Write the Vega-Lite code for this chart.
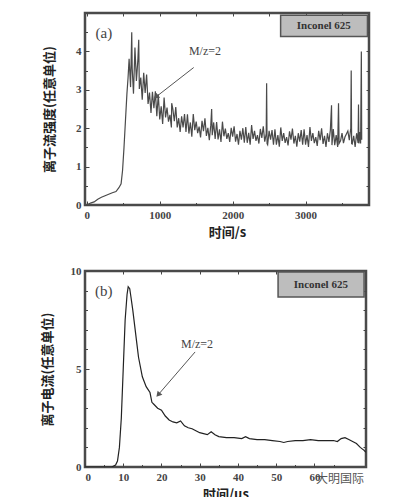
{
  "$schema": "https://vega.github.io/schema/vega-lite/v6.json",
  "background": "white",
  "padding": {"left": 39, "top": 11, "right": 5, "bottom": 0},
  "spacing": 22,
  "config": {
    "view": {"stroke": "#4a4a4a", "strokeWidth": 2.5},
    "axis": {
      "domain": false, "grid": false, "ticks": true, "tickColor": "#444", "tickSize": -4, "tickWidth": 1,
      "labelPadding": 8, "labelFont": "Liberation Serif", "labelFontSize": 11, "labelFontWeight": "bold", "labelColor": "#444", "format": "d",
      "titleFont": "Noto Sans CJK SC", "titleFontSize": 13, "titleFontWeight": "bold", "titleColor": "#222"
    }
  },
  "datasets": {
    "a": [
      {"t":0,"v":0.0},{"t":50,"v":0.05},{"t":100,"v":0.08},{"t":150,"v":0.15},{"t":200,"v":0.2},{"t":250,"v":0.24},{"t":300,"v":0.28},{"t":350,"v":0.32},{"t":400,"v":0.35},{"t":440,"v":0.45},{"t":470,"v":0.55},{"t":490,"v":0.9},{"t":510,"v":1.5},{"t":530,"v":2.2},{"t":550,"v":2.9},{"t":565,"v":3.3},
      {"t":580,"v":3.81},{"t":600,"v":3.07},{"t":616,"v":4.5},{"t":622,"v":3.57},{"t":640,"v":2.9},{"t":660,"v":4.1},{"t":680,"v":3.23},{"t":700,"v":3.78},{"t":712,"v":4.3},{"t":720,"v":3.02},{"t":740,"v":3.32},{"t":760,"v":2.74},{"t":780,"v":3.44},{"t":800,"v":2.92},{"t":820,"v":3.4},{"t":840,"v":2.63},{"t":860,"v":2.93},{"t":880,"v":2.4},{"t":900,"v":2.95},{"t":920,"v":2.52},{"t":940,"v":2.96},{"t":960,"v":2.31},{"t":980,"v":2.88},{"t":1000,"v":2.23},
      {"t":1020,"v":2.57},{"t":1040,"v":2.11},{"t":1060,"v":2.8},{"t":1080,"v":2.28},{"t":1100,"v":2.54},{"t":1120,"v":2.17},{"t":1140,"v":2.35},{"t":1160,"v":2.02},{"t":1164,"v":2.65},{"t":1180,"v":2.5},{"t":1200,"v":2.18},{"t":1220,"v":2.55},{"t":1240,"v":2.02},{"t":1260,"v":2.26},{"t":1280,"v":1.9},{"t":1300,"v":2.31},{"t":1320,"v":2.02},{"t":1340,"v":2.37},{"t":1360,"v":1.9},{"t":1380,"v":2.36},{"t":1400,"v":1.86},
      {"t":1420,"v":2.15},{"t":1440,"v":1.78},{"t":1460,"v":2.37},{"t":1480,"v":1.95},{"t":1500,"v":2.17},{"t":1520,"v":1.87},{"t":1540,"v":2.04},{"t":1560,"v":1.76},{"t":1580,"v":2.19},{"t":1600,"v":1.92},{"t":1620,"v":2.26},{"t":1640,"v":1.8},{"t":1660,"v":2.01},{"t":1680,"v":1.69},{"t":1700,"v":2.08},{"t":1712,"v":2.5},{"t":1720,"v":1.82},{"t":1740,"v":2.15},{"t":1760,"v":1.72},{"t":1780,"v":2.16},{"t":1800,"v":1.71},
      {"t":1820,"v":1.97},{"t":1840,"v":1.64},{"t":1860,"v":2.17},{"t":1880,"v":1.79},{"t":1900,"v":1.99},{"t":1920,"v":1.72},{"t":1940,"v":1.87},{"t":1960,"v":1.64},{"t":1980,"v":2.01},{"t":2000,"v":1.78},
      {"t":2020,"v":2.05},{"t":2040,"v":1.65},{"t":2060,"v":1.85},{"t":2080,"v":1.57},{"t":2100,"v":1.93},{"t":2120,"v":1.7},{"t":2140,"v":2.0},{"t":2160,"v":1.62},{"t":2180,"v":2.03},{"t":2200,"v":1.62},{"t":2220,"v":1.88},{"t":2240,"v":1.57},{"t":2260,"v":2.08},{"t":2280,"v":1.72},{"t":2300,"v":1.93},{"t":2320,"v":1.67},{"t":2340,"v":1.82},{"t":2360,"v":1.6},{"t":2380,"v":1.98},{"t":2400,"v":1.75},{"t":2420,"v":2.05},{"t":2440,"v":1.65},{"t":2460,"v":1.85},{"t":2466,"v":3.17},{"t":2472,"v":1.6},{"t":2480,"v":1.57},{"t":2500,"v":1.93},
      {"t":2520,"v":1.7},{"t":2540,"v":1.95},{"t":2560,"v":1.57},{"t":2580,"v":1.97},{"t":2600,"v":1.57},{"t":2620,"v":1.82},{"t":2640,"v":1.52},{"t":2660,"v":2.02},{"t":2680,"v":1.67},{"t":2700,"v":1.87},{"t":2720,"v":1.62},{"t":2740,"v":1.77},{"t":2760,"v":1.55},{"t":2780,"v":1.92},{"t":2800,"v":1.7},{"t":2820,"v":1.99},{"t":2840,"v":1.6},{"t":2860,"v":1.8},{"t":2880,"v":1.52},{"t":2900,"v":1.87},{"t":2920,"v":1.65},{"t":2940,"v":1.95},{"t":2960,"v":1.57},{"t":2980,"v":1.97},{"t":3000,"v":1.57},
      {"t":3020,"v":1.82},{"t":3040,"v":1.51},{"t":3060,"v":2.03},{"t":3080,"v":1.67},{"t":3100,"v":1.87},{"t":3120,"v":1.61},{"t":3140,"v":1.77},{"t":3160,"v":1.54},{"t":3180,"v":1.93},{"t":3200,"v":1.69},{"t":3220,"v":2.0},{"t":3240,"v":1.59},{"t":3260,"v":1.8},{"t":3280,"v":1.51},{"t":3300,"v":1.87},{"t":3320,"v":1.64},{"t":3340,"v":1.95},{"t":3356,"v":2.6},{"t":3362,"v":1.56},{"t":3380,"v":1.98},{"t":3400,"v":1.56},
      {"t":3420,"v":1.82},{"t":3440,"v":1.51},{"t":3452,"v":2.65},{"t":3460,"v":1.6},{"t":3480,"v":1.67},{"t":3500,"v":1.87},{"t":3520,"v":1.61},{"t":3540,"v":1.77},{"t":3560,"v":1.85},{"t":3580,"v":1.93},{"t":3600,"v":1.69},{"t":3620,"v":2.0},{"t":3626,"v":3.5},{"t":3632,"v":1.6},{"t":3640,"v":1.59},{"t":3660,"v":1.8},{"t":3680,"v":1.51},{"t":3700,"v":1.87},{"t":3720,"v":1.62},{"t":3726,"v":2.62},{"t":3732,"v":1.6},{"t":3745,"v":1.9},{"t":3755,"v":1.6},{"t":3765,"v":4.0},{"t":3770,"v":1.7}
    ],
    "b": [
      {"t":0,"v":0},{"t":7,"v":0},{"t":7.5,"v":0.05},{"t":8,"v":0.1},{"t":8.5,"v":0.3},{"t":9,"v":1.0},{"t":9.5,"v":2.5},{"t":10,"v":5.0},{"t":10.5,"v":7.5},{"t":11,"v":8.8},{"t":11.3,"v":9.2},{"t":11.7,"v":9.1},{"t":12,"v":8.7},{"t":12.5,"v":8.0},{"t":13,"v":7.2},{"t":13.5,"v":6.4},{"t":14,"v":5.6},{"t":15,"v":4.6},{"t":16,"v":4.1},{"t":17,"v":3.8},{"t":17.5,"v":3.3},{"t":18,"v":3.2},{"t":19,"v":3.0},{"t":20,"v":2.9},{"t":21,"v":2.6},{"t":22,"v":2.4},{"t":23,"v":2.3},{"t":24,"v":2.25},{"t":25,"v":2.35},{"t":26,"v":2.1},{"t":27,"v":2.0},{"t":28,"v":1.95},{"t":29,"v":1.85},{"t":30,"v":1.75},{"t":31,"v":1.7},{"t":32,"v":1.65},{"t":33,"v":1.8},{"t":34,"v":1.65},{"t":35,"v":1.55},{"t":37,"v":1.5},{"t":39,"v":1.5},{"t":41,"v":1.45},{"t":42,"v":1.55},{"t":43,"v":1.45},{"t":45,"v":1.4},{"t":47,"v":1.4},{"t":49,"v":1.35},{"t":51,"v":1.3},{"t":52,"v":1.25},{"t":53,"v":1.3},{"t":55,"v":1.35},{"t":57,"v":1.35},{"t":59,"v":1.4},{"t":61,"v":1.35},{"t":63,"v":1.35},{"t":65,"v":1.35},{"t":66,"v":1.3},{"t":67,"v":1.45},{"t":68,"v":1.5},{"t":69,"v":1.4},{"t":70,"v":1.3},{"t":71,"v":1.2},{"t":72,"v":1.0},{"t":73,"v":0.85},{"t":73.5,"v":0.75}
    ],
    "a_box": [{"x":2658,"x2":3849,"y":4.94,"y2":4.39,"label":"Inconel 625","cx":3250,"cy":4.66}],
    "a_lbl": [{"x":120,"y":4.47,"label":"(a)","s":"big"},{"x":1400,"y":4.02,"label":"M/z=2","s":"small"}],
    "a_arrow": [{"x":1466,"y":3.58,"x2":959,"y2":2.83}],
    "b_box": [{"x":50.5,"x2":73.0,"y":9.95,"y2":8.67,"label":"Inconel 625","cx":61.7,"cy":9.28}],
    "b_lbl": [{"x":2.6,"y":8.98,"label":"(b)","s":"big"},{"x":25.1,"y":6.3,"label":"M/z=2","s":"small"}],
    "b_arrow": [{"x":28.8,"y":5.87,"x2":19.3,"y2":3.72}],
    "wm": [{"x":73,"y":-0.6,"label":"大明国际"}]
  },
  "vconcat": [
    {
      "width": 284, "height": 192,
      "resolve": {"axis": {"x": "independent", "y": "independent"}},
      "layer": [
        {"data": {"name": "a"}, "mark": {"type": "line", "color": "#4a4a4a", "strokeWidth": 1.2, "clip": true},
         "encoding": {
           "x": {"field": "t", "type": "quantitative", "scale": {"domain": [-25, 3870], "nice": false, "zero": false}, "axis": {"orient": "bottom", "values": [0,1000,2000,3000], "title": "时间/s", "titlePadding": 6}},
           "y": {"field": "v", "type": "quantitative", "scale": {"domain": [0, 5], "nice": false}, "axis": {"orient": "left", "values": [0,1,2,3,4], "title": "离子流强度(任意单位)", "titlePadding": 19}}
         }},
        {"data": {"name": "a_box"}, "mark": {"type": "rect", "fill": "#bdbdbd", "stroke": "#555", "strokeWidth": 1.5},
         "encoding": {"x": {"field": "x", "type": "quantitative", "axis": {"orient": "bottom", "values": [500,1500,2500,3500], "labels": false, "title": null, "tickSize": -2.5}}, "x2": {"field": "x2"}, "y": {"field": "y", "type": "quantitative", "axis": {"orient": "left", "values": [0.5,1.5,2.5,3.5,4.5], "labels": false, "title": null, "tickSize": -2.5}}, "y2": {"field": "y2"}}},
        {"data": {"name": "a_box"}, "mark": {"type": "text", "font": "Liberation Serif", "fontSize": 11, "fontWeight": "bold", "color": "#333"},
         "encoding": {"x": {"field": "cx", "type": "quantitative", "axis": {"orient": "top", "values": [0,500,1000,1500,2000,2500,3000,3500], "labels": false, "title": null, "tickSize": -3}}, "y": {"field": "cy", "type": "quantitative", "axis": {"orient": "right", "values": [0,0.5,1,1.5,2,2.5,3,3.5,4,4.5], "labels": false, "title": null, "tickSize": -3}}, "text": {"field": "label"}}},
        {"data": {"name": "a_lbl"}, "mark": {"type": "text", "font": "Liberation Serif", "color": "#444", "align": "left"},
         "encoding": {"x": {"field": "x", "type": "quantitative", "axis": null}, "y": {"field": "y", "type": "quantitative", "axis": null}, "text": {"field": "label"},
           "size": {"field": "s", "type": "nominal", "scale": {"domain": ["big", "small"], "range": [15, 12]}, "legend": null}}},
        {"data": {"name": "a_arrow"}, "mark": {"type": "rule", "color": "#555", "strokeWidth": 1},
         "encoding": {"x": {"field": "x", "type": "quantitative", "axis": null}, "y": {"field": "y", "type": "quantitative", "axis": null}, "x2": {"field": "x2"}, "y2": {"field": "y2"}}},
        {"data": {"name": "a_arrow"}, "mark": {"type": "point", "shape": "triangle", "filled": true, "color": "#555", "size": 40, "angle": 232, "opacity": 1},
         "encoding": {"x": {"field": "x2", "type": "quantitative", "axis": null}, "y": {"field": "y2", "type": "quantitative", "axis": null}}}
      ]
    },
    {
      "width": 281, "height": 196,
      "resolve": {"axis": {"x": "independent", "y": "independent"}},
      "layer": [
        {"data": {"name": "b"}, "mark": {"type": "line", "color": "#222", "strokeWidth": 1.2, "clip": true},
         "encoding": {
           "x": {"field": "t", "type": "quantitative", "scale": {"domain": [0, 73.5], "nice": false, "zero": false}, "axis": {"orient": "bottom", "values": [0,10,20,30,40,50,60], "title": "时间/μs", "titlePadding": 6}},
           "y": {"field": "v", "type": "quantitative", "scale": {"domain": [0, 10], "nice": false}, "axis": {"orient": "left", "values": [0,5,10], "title": "离子电流(任意单位)", "titlePadding": 16}}
         }},
        {"data": {"name": "b_box"}, "mark": {"type": "rect", "fill": "#bdbdbd", "stroke": "#555", "strokeWidth": 1.5},
         "encoding": {"x": {"field": "x", "type": "quantitative", "axis": {"orient": "bottom", "values": [5,15,25,35,45,55,65], "labels": false, "title": null, "tickSize": -2.5}}, "x2": {"field": "x2"}, "y": {"field": "y", "type": "quantitative", "axis": {"orient": "left", "values": [1,2,3,4,6,7,8,9], "labels": false, "title": null, "tickSize": -2.5}}, "y2": {"field": "y2"}}},
        {"data": {"name": "b_box"}, "mark": {"type": "text", "font": "Liberation Serif", "fontSize": 11, "fontWeight": "bold", "color": "#333"},
         "encoding": {"x": {"field": "cx", "type": "quantitative", "axis": {"orient": "top", "values": [10,20,30,40,50,60,70], "labels": false, "title": null, "tickSize": -3}}, "y": {"field": "cy", "type": "quantitative", "axis": {"orient": "right", "values": [1,2,3,4,5,6,7,8,9], "labels": false, "title": null, "tickSize": -3}}, "text": {"field": "label"}}},
        {"data": {"name": "b_lbl"}, "mark": {"type": "text", "font": "Liberation Serif", "color": "#444", "align": "left"},
         "encoding": {"x": {"field": "x", "type": "quantitative", "axis": null}, "y": {"field": "y", "type": "quantitative", "axis": null}, "text": {"field": "label"},
           "size": {"field": "s", "type": "nominal", "scale": {"domain": ["big", "small"], "range": [15, 12]}, "legend": null}}},
        {"data": {"name": "b_arrow"}, "mark": {"type": "rule", "color": "#555", "strokeWidth": 1},
         "encoding": {"x": {"field": "x", "type": "quantitative", "axis": null}, "y": {"field": "y", "type": "quantitative", "axis": null}, "x2": {"field": "x2"}, "y2": {"field": "y2"}}},
        {"data": {"name": "b_arrow"}, "mark": {"type": "point", "shape": "triangle", "filled": true, "color": "#555", "size": 40, "angle": 221, "opacity": 1},
         "encoding": {"x": {"field": "x2", "type": "quantitative", "axis": null}, "y": {"field": "y2", "type": "quantitative", "axis": null}}},
        {"data": {"name": "wm"}, "mark": {"type": "text", "font": "Noto Sans CJK SC", "fontSize": 12, "color": "#555", "align": "right"},
         "encoding": {"x": {"field": "x", "type": "quantitative", "axis": null}, "y": {"field": "y", "type": "quantitative", "axis": null}, "text": {"field": "label"}}}
      ]
    }
  ]
}
